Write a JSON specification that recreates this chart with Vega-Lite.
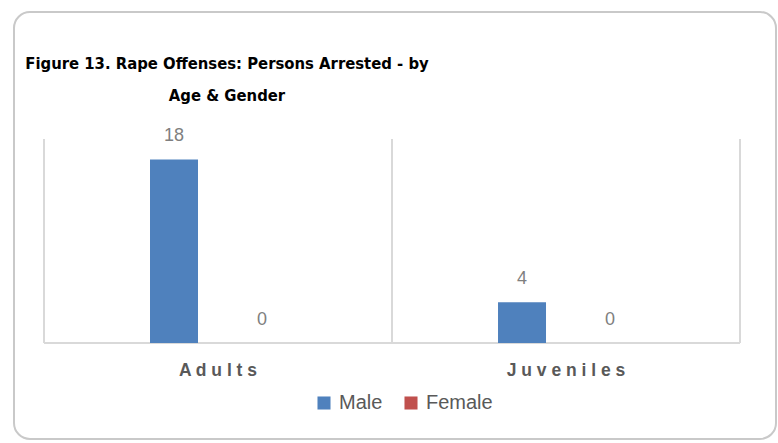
{
  "$schema": "https://vega.github.io/schema/vega-lite/v6.json",
  "width": 762,
  "height": 427,
  "autosize": {"type": "none"},
  "padding": {"left": 14, "top": 12, "right": 2, "bottom": 4},
  "background": "white",
  "config": {
    "view": {"stroke": "#c9c9c9", "strokeWidth": 2, "cornerRadius": 16, "fill": "white"},
    "font": "Liberation Sans"
  },
  "title": {
    "text": ["Figure 13.  Rape Offenses: Persons Arrested - by", "Age & Gender"],
    "anchor": "start",
    "align": "center",
    "baseline": "alphabetic",
    "dx": 213,
    "dy": 50,
    "offset": -55,
    "font": "DejaVu Sans Condensed",
    "fontSize": 16.5,
    "fontWeight": "bold",
    "lineHeight": 32,
    "color": "#000000"
  },
  "data": {
    "values": [
      {"cat": "Adults", "gender": "Male", "count": 18},
      {"cat": "Adults", "gender": "Female", "count": 0},
      {"cat": "Juveniles", "gender": "Male", "count": 4},
      {"cat": "Juveniles", "gender": "Female", "count": 0}
    ]
  },
  "layer": [
    {
      "transform": [{"filter": "datum.gender === 'Male'"}],
      "mark": {"type": "rule", "color": "#d9d9d9", "strokeWidth": 2},
      "encoding": {
        "x": {
          "field": "cat", "type": "nominal", "bandPosition": 0, "title": null,
          "sort": ["Adults", "Juveniles"],
          "scale": {"paddingInner": 0, "paddingOuter": 0.0948, "align": 0.4545},
          "axis": {"orient": "bottom", "offset": -96, "domain": false, "ticks": false, "grid": false, "labelAngle": 0, "labelPadding": 18, "labelFontSize": 17.5, "labelFontWeight": "bold", "labelColor": "#595959", "labelExpr": "join(split(datum.label, ''), ' ')"}
        },
        "y": {"datum": 0, "type": "quantitative", "scale": {"domain": [-9.41, 32.45], "nice": false, "zero": false}, "axis": null},
        "y2": {"datum": 20}
      }
    },
    {
      "transform": [{"filter": "datum.gender === 'Male'"}],
      "mark": {"type": "rule", "color": "#d9d9d9", "strokeWidth": 2},
      "encoding": {
        "x": {
          "field": "cat", "type": "nominal", "bandPosition": 1, "title": null,
          "sort": ["Adults", "Juveniles"],
          "axis": {"orient": "bottom", "offset": -96, "domain": false, "ticks": false, "grid": false, "labelAngle": 0, "labelPadding": 18, "labelFontSize": 17.5, "labelFontWeight": "bold", "labelColor": "#595959", "labelExpr": "join(split(datum.label, ''), ' ')"}
        },
        "y": {"datum": 0, "type": "quantitative", "axis": null},
        "y2": {"datum": 20}
      }
    },
    {
      "transform": [{"filter": "datum.gender === 'Male'"}],
      "mark": {"type": "rule", "color": "#d9d9d9", "strokeWidth": 2},
      "encoding": {
        "x": {
          "field": "cat", "type": "nominal", "bandPosition": 0, "title": null,
          "sort": ["Adults", "Juveniles"],
          "axis": {"orient": "bottom", "offset": -96, "domain": false, "ticks": false, "grid": false, "labelAngle": 0, "labelPadding": 18, "labelFontSize": 17.5, "labelFontWeight": "bold", "labelColor": "#595959", "labelExpr": "join(split(datum.label, ''), ' ')"}
        },
        "x2": {"field": "cat", "bandPosition": 1},
        "y": {"datum": 0, "type": "quantitative", "axis": null}
      }
    },
    {
      "mark": {"type": "bar"},
      "encoding": {
        "x": {
          "field": "cat", "type": "nominal", "title": null,
          "sort": ["Adults", "Juveniles"],
          "axis": {"orient": "bottom", "offset": -96, "domain": false, "ticks": false, "grid": false, "labelAngle": 0, "labelPadding": 18, "labelFontSize": 17.5, "labelFontWeight": "bold", "labelColor": "#595959", "labelExpr": "join(split(datum.label, ''), ' ')"}
        },
        "xOffset": {
          "field": "gender",
          "type": "nominal",
          "scale": {"domain": ["padA", "Male", "Female", "padB"], "paddingInner": 0.4545, "paddingOuter": 0.205}
        },
        "y": {"field": "count", "type": "quantitative", "axis": null},
        "y2": {"datum": 0},
        "color": {
          "field": "gender",
          "type": "nominal",
          "scale": {"domain": ["Male", "Female"], "range": ["#4F81BD", "#C0504D"]},
          "legend": {
            "title": null,
            "orient": "none",
            "direction": "horizontal",
            "legendX": 300,
            "legendY": 381,
            "symbolType": "square",
            "symbolSize": 170,
            "symbolStrokeWidth": 0,
            "labelFontSize": 20,
            "labelColor": "#595959",
            "labelOffset": 5,
            "columnPadding": 18
          }
        }
      }
    },
    {
      "mark": {"type": "text", "baseline": "alphabetic", "dy": -18, "fontSize": 18, "color": "#7f7f7f"},
      "encoding": {
        "x": {
          "field": "cat", "type": "nominal", "title": null,
          "sort": ["Adults", "Juveniles"],
          "axis": {"orient": "bottom", "offset": -96, "domain": false, "ticks": false, "grid": false, "labelAngle": 0, "labelPadding": 18, "labelFontSize": 17.5, "labelFontWeight": "bold", "labelColor": "#595959", "labelExpr": "join(split(datum.label, ''), ' ')"}
        },
        "xOffset": {"field": "gender", "type": "nominal"},
        "y": {"field": "count", "type": "quantitative", "axis": null},
        "text": {"field": "count", "type": "quantitative"}
      }
    }
  ]
}
